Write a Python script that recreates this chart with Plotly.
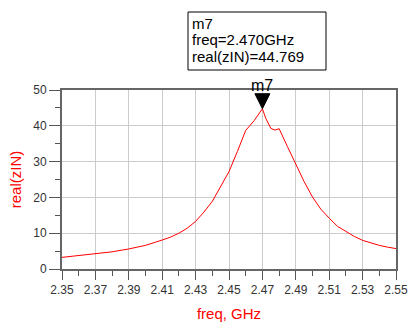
import plotly.graph_objects as go

freq = [2.35, 2.36, 2.37, 2.38, 2.39, 2.40, 2.41, 2.415, 2.42, 2.425, 2.43, 2.435, 2.44, 2.445,
        2.45, 2.455, 2.46, 2.465, 2.47, 2.472, 2.475, 2.4775, 2.48, 2.485, 2.49, 2.495, 2.50,
        2.505, 2.51, 2.515, 2.52, 2.525, 2.53, 2.535, 2.54, 2.545, 2.55]
real_zin = [3.25, 3.7, 4.3, 4.8, 5.6, 6.6, 8.1, 8.9, 10.0, 11.4, 13.3, 15.9, 18.9, 22.9,
            27.2, 32.8, 38.7, 41.4, 44.769, 42.1, 39.3, 38.8, 39.2, 34.2, 29.1, 24.4, 20.1,
            16.7, 14.2, 11.9, 10.5, 9.1, 8.0, 7.2, 6.6, 6.1, 5.7]

x_ticks = [2.35, 2.37, 2.39, 2.41, 2.43, 2.45, 2.47, 2.49, 2.51, 2.53, 2.55]
y_ticks = [0, 10, 20, 30, 40, 50]
marker_name = "m7"
marker_freq = 2.470
marker_val = 44.769
box_lines = [marker_name, "freq=2.470GHz", "real(zIN)=44.769"]

FONT = "Liberation Sans, Arial"
L, R, T, B = 62, 13, 90, 55
W, H = 409, 324
PW, PH = W - L - R, H - T - B


def px(x):
    return (x - L) / PW


def py(y):
    return (H - B - y) / PH


fig = go.Figure()
fig.add_trace(go.Scatter(x=freq, y=real_zin, mode="lines",
                         line=dict(color="#ff0000", width=1), showlegend=False))

fig.add_shape(type="path", xref="x", yref="y", xsizemode="pixel", ysizemode="pixel",
              xanchor=marker_freq, yanchor=marker_val,
              path="M-7.5,15 L7.5,15 L0,0 Z", fillcolor="black", line=dict(color="black", width=1))

fig.add_annotation(x=marker_freq, y=marker_val, xref="x", yref="y", text=marker_name,
                   showarrow=False, yshift=23, font=dict(size=16, color="black", family=FONT))

# marker readout box
fig.add_shape(type="rect", xref="paper", yref="paper",
              x0=px(188), x1=px(326), y0=py(70), y1=py(12),
              line=dict(color="black", width=1), fillcolor="white")
for i, (txt, cy) in enumerate(zip(box_lines, [23, 40, 57])):
    fig.add_annotation(x=px(190), y=py(cy), xref="paper", yref="paper",
                       xanchor="left", yanchor="middle", text=txt, showarrow=False,
                       font=dict(size=15, color="black", family=FONT))

axis_common = dict(showgrid=True, gridcolor="#cccccc", gridwidth=1, showline=True,
                   linecolor="#666666", linewidth=2, mirror=True, ticks="outside",
                   tickcolor="#555555", tickfont=dict(size=12, color="#333333", family=FONT),
                   zeroline=False, automargin=False)

fig.update_xaxes(range=[2.35, 2.55], tickvals=x_ticks, ticktext=[f"{v:.2f}" for v in x_ticks],
                 ticklen=9, minor=dict(dtick=0.01, tick0=2.35, ticks="outside", ticklen=5,
                 tickcolor="#555555", showgrid=False),
                 title=dict(text="freq, GHz", font=dict(size=15, color="#ff0000", family=FONT),
                            standoff=12), **axis_common)
fig.update_yaxes(range=[0, 50], tickvals=y_ticks, ticklen=11,
                 minor=dict(dtick=5, tick0=0, ticks="outside", ticklen=5,
                 tickcolor="#555555", showgrid=False),
                 title=dict(text="real(zIN)", font=dict(size=15, color="#ff0000", family=FONT),
                            standoff=8), **axis_common)

fig.update_layout(width=W, height=H, margin=dict(l=L, r=R, t=T, b=B),
                  plot_bgcolor="white", paper_bgcolor="white")

fig.write_html("out.html", config={"displayModeBar": False},
               post_script="document.body.style.margin='0';document.body.style.padding='0';")
